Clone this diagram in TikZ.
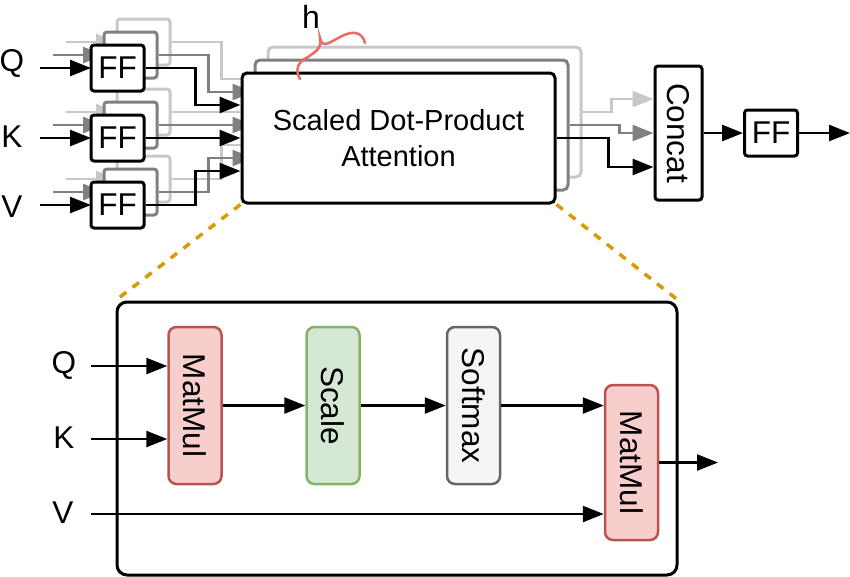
\documentclass[tikz,border=0pt]{standalone}
\usepackage{fontspec}
\setmainfont{Liberation Sans}
\usepackage{graphicx}
\usetikzlibrary{arrows.meta}
\definecolor{lg}{HTML}{C8C8C8}
\definecolor{mg}{HTML}{808080}
\definecolor{hred}{HTML}{EA6B66}
\definecolor{dorange}{HTML}{D79B00}
\definecolor{rfill}{HTML}{F8CECC}
\definecolor{rdraw}{HTML}{B85450}
\definecolor{gfill}{HTML}{D5E8D4}
\definecolor{gdraw}{HTML}{82B366}
\definecolor{sfill}{HTML}{F5F5F5}
\definecolor{sdraw}{HTML}{666666}
\begin{document}
\begin{tikzpicture}[x=1pt,y=-1pt,
  font=\fontsize{31.5}{36}\selectfont,
  arr/.style={line width=2.5pt,-{Triangle[length=21pt,width=16pt]}},
  ffbox/.style={draw,fill=white,line width=3pt,rounded corners=3pt,minimum width=53pt,minimum height=46pt,inner sep=0pt},
  sdpabox/.style={draw,fill=white,line width=3pt,rounded corners=5pt,minimum width=313pt,minimum height=130pt,inner sep=0pt,align=center,font=\fontsize{29}{36}\selectfont},
  opbox/.style={draw,line width=2.5pt,rounded corners=8pt,minimum width=53pt,minimum height=157pt,inner sep=0pt},
  lbl/.style={inner sep=0pt}
]
\useasboundingbox (0,0) rectangle (850,576);

% labels top
\node[lbl] (Q) at (12,63) {Q};
\node[lbl] (K) at (12,137) {K};
\node[lbl] (V) at (12,207) {V};

% Concat and output FF
\node[draw,fill=white,line width=3pt,rounded corners=3pt,minimum width=47pt,minimum height=134pt,inner sep=0pt] (concat) at (678.5,133) {\rotatebox{-90}{Concat}};
\node[ffbox] (ffout) at (771,133) {FF};
\coordinate (outend) at (850,133);

% layered heads
\foreach \k/\c in {2/lg,1/mg,0/black}{
  \pgfmathsetmacro{\o}{13*\k}
  \begin{scope}[xshift=\o pt,yshift=\o pt]
    \coordinate (qs\k) at (40,68);
    \coordinate (ks\k) at (40,138);
    \coordinate (vs\k) at (40,205);
    \draw[arr,color=\c] (qs\k) -- (117.5-26.5,68);
    \draw[arr,color=\c] (ks\k) -- (117.5-26.5,138);
    \draw[arr,color=\c] (vs\k) -- (117.5-26.5,205);
    \node[ffbox,draw=\c] (ffQ\k) at (117.5,68) {\ifnum\k=0 FF\fi};
    \node[ffbox,draw=\c] (ffK\k) at (117.5,138) {\ifnum\k=0 FF\fi};
    \node[ffbox,draw=\c] (ffV\k) at (117.5,205) {\ifnum\k=0 FF\fi};
    \node[sdpabox,draw=\c] (sdpa\k) at (398.5,138) {\ifnum\k=0 Scaled Dot-Product\\Attention\fi};
    \draw[arr,color=\c] (ffQ\k.east) -- ++(50,0) |- ([yshift=33pt]sdpa\k.west);
    \draw[arr,color=\c] (ffK\k.east) -- (sdpa\k.west);
    \draw[arr,color=\c] (ffV\k.east) -- ++(50,0) |- ([yshift=-33pt]sdpa\k.west);
  \end{scope}
}

% heads to concat
\draw[arr,color=lg] (sdpa2.east) -- ++(29,0) |- ([yshift=34pt]concat.west);
\draw[arr,color=mg] (sdpa1.east) -- ++(50,0) |- (concat.west);
\draw[arr,color=black] (sdpa0.east) -- ++(52,0) |- ([yshift=-34pt]concat.west);
\draw[arr] (concat.east) -- (ffout.west);
\draw[arr] (ffout.east) -- (outend);

% h brace
\node[lbl,font=\fontsize{32}{36}\selectfont] (h) at (311,17) {h};
\draw[hred,line width=2.5pt,line cap=round]
  (300,79) .. controls (294,69) and (299,61) .. (308,57) -- (315,52)
  .. controls (320,48) and (321,44) .. (320,38)
  .. controls (321,44) and (324,45) .. (329,43) -- (342,36)
  .. controls (352,31) and (362,31) .. (365,43);

% lower detail box
\node[draw,line width=3pt,rounded corners=10pt,minimum width=560pt,minimum height=273pt,inner sep=0pt] (inner) at (397,438.5) {};
\draw[dorange,line width=3.5pt,dash pattern=on 8pt off 8pt] (sdpa0.south west) -- (inner.north west);
\draw[dorange,line width=3.5pt,dash pattern=on 8pt off 8pt] (sdpa0.south east) -- (inner.north east);

\node[opbox,draw=rdraw,fill=rfill] (mm1) at (195,405.5) {\rotatebox{-90}{MatMul}};
\node[opbox,draw=gdraw,fill=gfill] (scale) at (333,405.5) {\rotatebox{-90}{Scale}};
\node[opbox,draw=sdraw,fill=sfill] (softmax) at (473.5,405.5) {\rotatebox{-90}{Softmax}};
\node[opbox,draw=rdraw,fill=rfill,minimum height=155pt] (mm2) at (631.5,462.5) {\rotatebox{-90}{MatMul}};

\node[lbl] (lQ) at (64,365) {Q};
\node[lbl] (lK) at (64,438) {K};
\node[lbl] (lV) at (63,513) {V};
\coordinate (lqs) at (91,366);
\coordinate (lks) at (91,439);
\coordinate (lvs) at (91,514);
\coordinate (mout) at (718,462.5);

\draw[arr] (lqs) -- (lqs -| mm1.west);
\draw[arr] (lks) -- (lks -| mm1.west);
\draw[arr] (lvs) -- (lvs -| mm2.west);
\draw[arr] (mm1.east) -- (scale.west);
\draw[arr] (scale.east) -- (softmax.west);
\draw[arr] (softmax.east) -- (softmax.east -| mm2.west);
\draw[arr] (mm2.east) -- (mout);
\end{tikzpicture}
\end{document}
